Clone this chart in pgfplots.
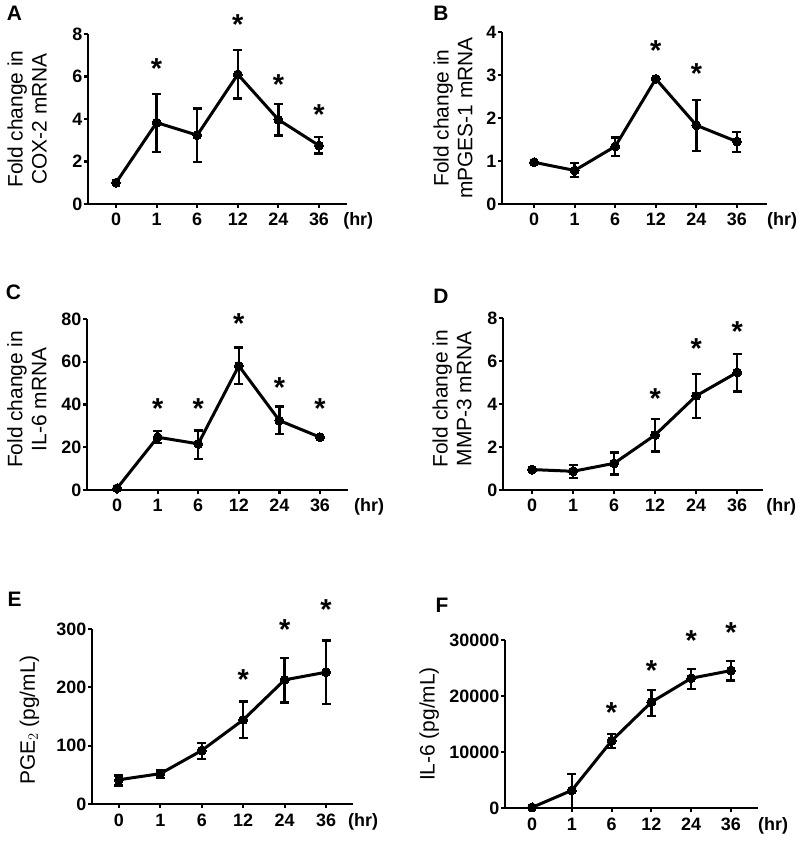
\documentclass[border=0pt]{standalone}
\usepackage{fontspec}
\setmainfont{Liberation Sans}
\usepackage{pgfplots}
\pgfplotsset{compat=1.18}
\pgfplotsset{
  panel/.style={
    scale only axis,
    axis x line*=bottom,
    axis y line*=left,
    axis line style={line width=2.5bp, black},
    ymin=0,
    xtick={0,1,2,3,4,5},
    xticklabels={0,1,6,12,24,36},
    tick align=outside,
    major tick length=4bp,
    every tick/.style={line width=2.2bp, black},
    tick label style={font=\fontsize{18}{18}\selectfont\bfseries},
    /pgf/number format/assume math mode=true,
    /pgf/number format/1000 sep={},
    scaled y ticks=false,
    yticklabel style={inner sep=1.5bp},
    xticklabel style={inner sep=0bp, anchor=base, yshift=-18bp},
    ylabel style={font=\fontsize{21}{24}\selectfont, align=center, anchor=center},
    clip=false,
  },
  dataline/.style={black, line width=3bp, mark=*, mark size=4.5bp,
    mark options={solid, fill=black, line width=0bp},
    error bars/.cd, y dir=both, y explicit,
    error bar style={line width=2.4bp},
    error mark options={rotate=90, mark size=4.5bp, line width=2.4bp}},
  stars/.style={draw=none, mark=none, nodes near coords={*},
    every node near coord/.append style={font=\fontsize{29}{29}\selectfont\bfseries, anchor=base, yshift=-10.5bp, inner sep=0pt}},
}
\newcommand{\hr}[1]{\node[anchor=base west, font=\fontsize{18}{18}\selectfont\bfseries, inner sep=0pt] at (axis description cs:#1,0) [yshift=-22bp] {(hr)};}
\begin{document}
\begin{tikzpicture}
\path[use as bounding box] (0bp,0bp) rectangle (798bp,842bp);
\node[font=\fontsize{21}{21}\selectfont\bfseries] at (14.5bp,828.5bp) {A};
\node[font=\fontsize{21}{21}\selectfont\bfseries] at (441bp,828.5bp) {B};
\node[font=\fontsize{21}{21}\selectfont\bfseries] at (13.5bp,550bp) {C};
\node[font=\fontsize{21}{21}\selectfont\bfseries] at (441bp,546bp) {D};
\node[font=\fontsize{21}{21}\selectfont\bfseries] at (14.5bp,243bp) {E};
\node[font=\fontsize{21}{21}\selectfont\bfseries] at (442bp,237bp) {F};

% A
\begin{axis}[panel, at={(88bp,638bp)}, anchor=south west, width=259bp, height=170bp,
  xmin=-0.69, xmax=5.69, ymax=8, ytick={0,2,4,6,8},
  ylabel={Fold change in\\COX-2 mRNA}, ylabel style={at={(axis description cs:-0.235,0.5)}}]
\addplot[dataline] coordinates {
 (0,1.0) += (0,0) -= (0,0)
 (1,3.83) += (0,1.35) -= (0,1.38)
 (2,3.24) += (0,1.25) -= (0,1.26)
 (3,6.10) += (0,1.16) -= (0,1.14)
 (4,3.97) += (0,0.73) -= (0,0.75)
 (5,2.75) += (0,0.40) -= (0,0.38)
};
\addplot[stars] coordinates {(1,6.39) (3,8.48) (4,5.66) (5,4.22)};
\hr{0.985}
\end{axis}

% B
\begin{axis}[panel, at={(502bp,638bp)}, anchor=south west, width=265bp, height=172bp,
  xmin=-0.79, xmax=5.74, ymax=4, ytick={0,1,2,3,4},
  ylabel={Fold change in\\mPGES-1 mRNA}, ylabel style={at={(axis description cs:-0.185,0.5)}}]
\addplot[dataline] coordinates {
 (0,0.97) += (0,0) -= (0,0)
 (1,0.78) += (0,0.17) -= (0,0.15)
 (2,1.34) += (0,0.21) -= (0,0.23)
 (3,2.91) += (0,0.02) -= (0,0.02)
 (4,1.83) += (0,0.59) -= (0,0.60)
 (5,1.45) += (0,0.22) -= (0,0.24)
};
\addplot[stars] coordinates {(3,3.57) (4,3.04)};
\hr{1.0}
\end{axis}

% C
\begin{axis}[panel, at={(87bp,352bp)}, anchor=south west, width=261bp, height=171bp,
  xmin=-0.74, xmax=5.69, ymax=80, ytick={0,20,40,60,80},
  ylabel={Fold change in\\IL-6 mRNA}, ylabel style={at={(axis description cs:-0.23,0.53)}}]
\addplot[dataline] coordinates {
 (0,0.8) += (0,0) -= (0,0)
 (1,24.7) += (0,3.0) -= (0,2.8)
 (2,21.6) += (0,6.2) -= (0,7.1)
 (3,58.1) += (0,8.5) -= (0,8.6)
 (4,32.5) += (0,6.5) -= (0,6.4)
 (5,24.7) += (0,0) -= (0,0)
};
\addplot[stars] coordinates {(1,38.3) (2,38.3) (3,78.1) (4,48.4) (5,38.3)};
\hr{1.023}
\end{axis}

% D
\begin{axis}[panel, at={(503bp,352bp)}, anchor=south west, width=260bp, height=172bp,
  xmin=-0.71, xmax=5.63, ymax=8, ytick={0,2,4,6,8},
  ylabel={Fold change in\\MMP-3 mRNA}, ylabel style={at={(axis description cs:-0.196,0.53)}}]
\addplot[dataline] coordinates {
 (0,0.95) += (0,0) -= (0,0)
 (1,0.87) += (0,0.30) -= (0,0.31)
 (2,1.24) += (0,0.50) -= (0,0.51)
 (3,2.56) += (0,0.75) -= (0,0.77)
 (4,4.38) += (0,1.01) -= (0,1.04)
 (5,5.47) += (0,0.85) -= (0,0.89)
};
\addplot[stars] coordinates {(3,4.27) (4,6.6) (5,7.38)};
\hr{1.012}
\end{axis}

% E
\begin{axis}[panel, at={(92bp,38bp)}, anchor=south west, width=261bp, height=175bp,
  xmin=-0.65, xmax=5.65, ymax=300, ytick={0,100,200,300},
  ylabel={PGE$_2$ (pg/mL)}, ylabel style={at={(axis description cs:-0.24,0.48)}}]
\addplot[dataline] coordinates {
 (0,41.6) += (0,7.4) -= (0,9.6)
 (1,52) += (0,5.6) -= (0,7.5)
 (2,91.8) += (0,13.2) -= (0,14.2)
 (3,144.3) += (0,31.4) -= (0,31.3)
 (4,212.8) += (0,37.1) -= (0,38.8)
 (5,225.9) += (0,54.1) -= (0,54.2)
};
\addplot[stars] coordinates {(3,214) (4,299.4) (5,333.7)};
\hr{0.981}
\end{axis}

% F
\begin{axis}[panel, at={(505bp,34bp)}, anchor=south west, width=253bp, height=168bp,
  xmin=-0.68, xmax=5.68, ymax=30000, ytick={0,10000,20000,30000},
  ylabel={IL-6 (pg/mL)}, ylabel style={at={(axis description cs:-0.30,0.5)}}]
\addplot[dataline] coordinates {
 (0,100) += (0,0) -= (0,0)
 (1,3150) += (0,2970) -= (0,3150)
 (2,12000) += (0,1250) -= (0,1300)
 (3,18900) += (0,2200) -= (0,2440)
 (4,23170) += (0,1670) -= (0,1960)
 (5,24540) += (0,1720) -= (0,1780)
};
\addplot[stars] coordinates {(2,17230) (3,24660) (4,30000) (5,31490)};
\hr{1.0}
\end{axis}
\end{tikzpicture}
\end{document}
